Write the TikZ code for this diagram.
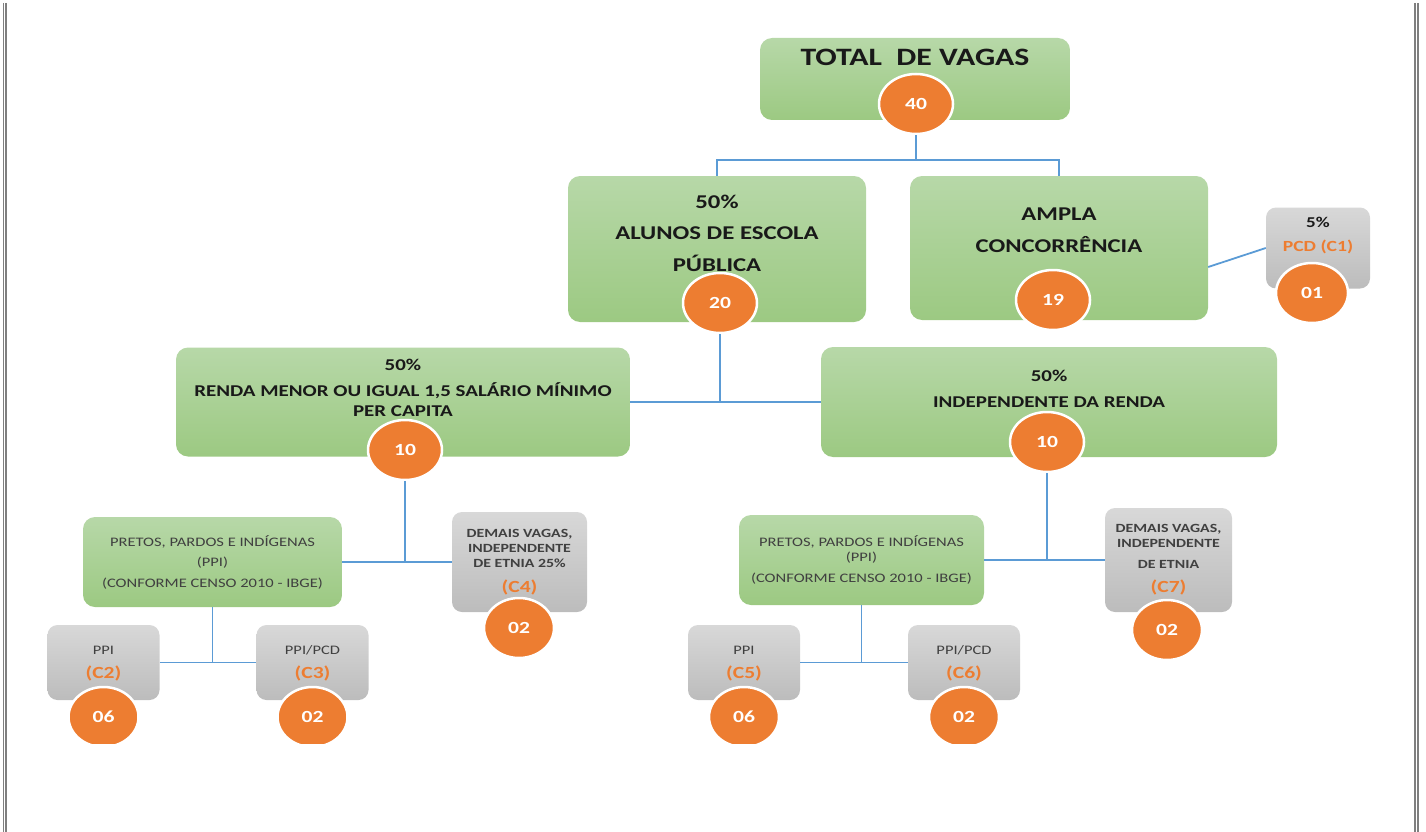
\documentclass[tikz,border=0pt]{standalone}
\usepackage{fontspec}
\setmainfont{Carlito}[FakeStretch=1.27]
\usepackage{tikz}
\usetikzlibrary{shapes.geometric, calc}
\definecolor{boxtop}{HTML}{B7D8A8}
\definecolor{boxbot}{HTML}{9CC982}
\definecolor{graytop}{HTML}{D8D8D8}
\definecolor{graybot}{HTML}{BCBCBC}
\definecolor{vagas}{HTML}{ED7D31}
\definecolor{linkblue}{HTML}{5B9BD5}
\definecolor{frame}{HTML}{7F7F7F}

\begin{document}
\begin{tikzpicture}[x=1pt,y=-1pt,
greenbox/.style={rounded corners=12pt, top color=boxtop, bottom color=boxbot, inner sep=0pt},
graybox/.style={rounded corners=10pt, top color=graytop, bottom color=graybot, inner sep=0pt},
count/.style={ellipse, minimum width=74pt, minimum height=60pt, inner sep=0pt, fill=vagas, draw=white, line width=2.5pt, text=white, font=\bfseries\fontsize{17}{20}\selectfont},
link/.style={draw=linkblue, line width=1.8pt},
title text/.style={font=\bfseries\fontsize{25}{28}\selectfont, text=black!90},
head text/.style={font=\bfseries\fontsize{19.5}{31.5}\selectfont, text=black!90, align=center},
renda text/.style={font=\bfseries\fontsize{16.5}{20}\selectfont, text=black!90, align=center},
ppi text/.style={font=\fontsize{13}{20.5}\selectfont, text=black!75, align=center},
demais text/.style={font=\bfseries\fontsize{12.5}{15}\selectfont, text=black!75, align=center},
small text/.style={font=\fontsize{13}{15}\selectfont, text=black!75},
code text/.style={font=\bfseries\fontsize{17}{20}\selectfont, text=vagas}]
\useasboundingbox (0,0) rectangle (1426,832);
% page frame
\foreach \x in {3.3,6,1415,1418}
\draw [frame, line width=1.2pt] (\x,3) -- (\x,832);

\begin{scope}
\clip (0,0) rectangle (1426,743);
% total
\node [greenbox, minimum width=310pt, minimum height=82pt] (total) at (915,79) {};
\node [title text] (total text) at (915,57) {TOTAL\ \ DE VAGAS};
\node [count] (count total) at (916,104) {40};
\coordinate (split top) at (916,160);

% second level
\node [greenbox, minimum width=298pt, minimum height=146pt] (escola) at (717,249) {};
\node [head text] (escola text) at (717,233) {50\%\\ALUNOS DE ESCOLA\\PÚBLICA};
\node [count] (count escola) at (720,303) {20};
\node [greenbox, minimum width=298pt, minimum height=144pt] (ampla) at (1059,248) {};
\node [head text] (ampla text) at (1059,230) {AMPLA\\CONCORRÊNCIA};
\node [count] (count ampla) at (1053,300) {19};
\node [graybox, minimum width=104pt, minimum height=81pt] (pcd) at (1318,248) {};
\node [font=\bfseries\fontsize{15}{18}\selectfont, text=black!90] (pcd rate) at (1318,222) {5\%};
\node [code text, font=\bfseries\fontsize{15.5}{18}\selectfont] (pcd text) at (1318,247) {PCD (C1)};
\node [count, minimum width=72pt] (count pcd) at (1312,293) {01};

% third level
\node [greenbox, minimum width=454pt, minimum height=109pt] (renda) at (403,402) {};
\node [renda text] (renda text) at (403,388) {50\%\\[6pt]RENDA MENOR OU IGUAL 1,5 SALÁRIO MÍNIMO\\PER CAPITA};
\node [count] (count renda) at (405,450) {10};
\node [greenbox, minimum width=456pt, minimum height=110pt] (indep) at (1049,402) {};
\node [renda text] (indep text) at (1049,389) {50\%\\[6pt]INDEPENDENTE DA RENDA};
\node [count] (count indep) at (1047,442) {10};

% fourth level
\node [greenbox, minimum width=259pt, minimum height=90pt] (ppi left) at (212.5,562) {};
\node [ppi text] (ppi left text) at (212.5,562) {PRETOS, PARDOS E INDÍGENAS\\(PPI)\\(CONFORME CENSO 2010 - IBGE)};
\node [graybox, minimum width=135pt, minimum height=100pt] (demais left) at (519.5,562) {};
\node [demais text] (demais left text) at (519.5,548) {DEMAIS VAGAS,\\INDEPENDENTE\\DE ETNIA 25\%};
\node [code text] (code C4) at (519.5,587) {(C4)};
\node [count, minimum width=70pt] (count C4) at (519,628) {02};
\node [greenbox, minimum width=245pt, minimum height=90pt] (ppi right) at (861.5,560) {};
\node [ppi text, font=\fontsize{13}{14.5}\selectfont] (ppi right text) at (861.5,560) {PRETOS, PARDOS E INDÍGENAS\\(PPI)\\[7pt](CONFORME CENSO 2010 - IBGE)};
\node [graybox, minimum width=127pt, minimum height=104pt] (demais right) at (1168.5,560) {};
\node [demais text] (demais right text) at (1168.5,546) {DEMAIS VAGAS,\\INDEPENDENTE\\[6pt]DE ETNIA};
\node [code text] (code C7) at (1168.5,587) {(C7)};
\node [count, minimum width=70pt] (count C7) at (1167,630) {02};

% last level
\foreach \cat/\x/\txt/\num in {C2/103.5/PPI/06, C3/312.5/PPI\slash PCD/02, C5/744/PPI/06, C6/964/PPI\slash PCD/02}
{
\node [graybox, minimum width=112pt, minimum height=75pt] (box \cat) at (\x,662.5) {};
\node [small text] (text \cat) at (\x,650) {\txt};
\node [code text] (code \cat) at (\x,673) {(\cat)};
\node [count, minimum width=70pt] (count \cat) at (\x,717) {\num};
}

% connectors
\draw [link] (count total.south) -- (split top);
\draw [link] (escola.north) |- (split top) -| (ampla.north);
\draw [link] ([yshift=-19pt]ampla.east) -- (pcd.west);
\draw [link] (count escola.south) -- (count escola.south |- renda.east);
\draw [link] (renda.east) -- (indep.west);
\draw [link] (count renda.south) -- (count renda.south |- ppi left.east);
\draw [link] (ppi left.east) -- (demais left.west);
\draw [link] (count indep.south) -- (count indep.south |- ppi right.east);
\draw [link] (ppi right.east) -- (demais right.west);
\draw [link] (ppi left.south) -- (ppi left.south |- box C2.east);
\draw [link] (box C2.east) -- (box C3.west);
\draw [link] (ppi right.south) -- (ppi right.south |- box C5.east);
\draw [link] (box C5.east) -- (box C6.west);
\end{scope}
\end{tikzpicture}
\end{document}
